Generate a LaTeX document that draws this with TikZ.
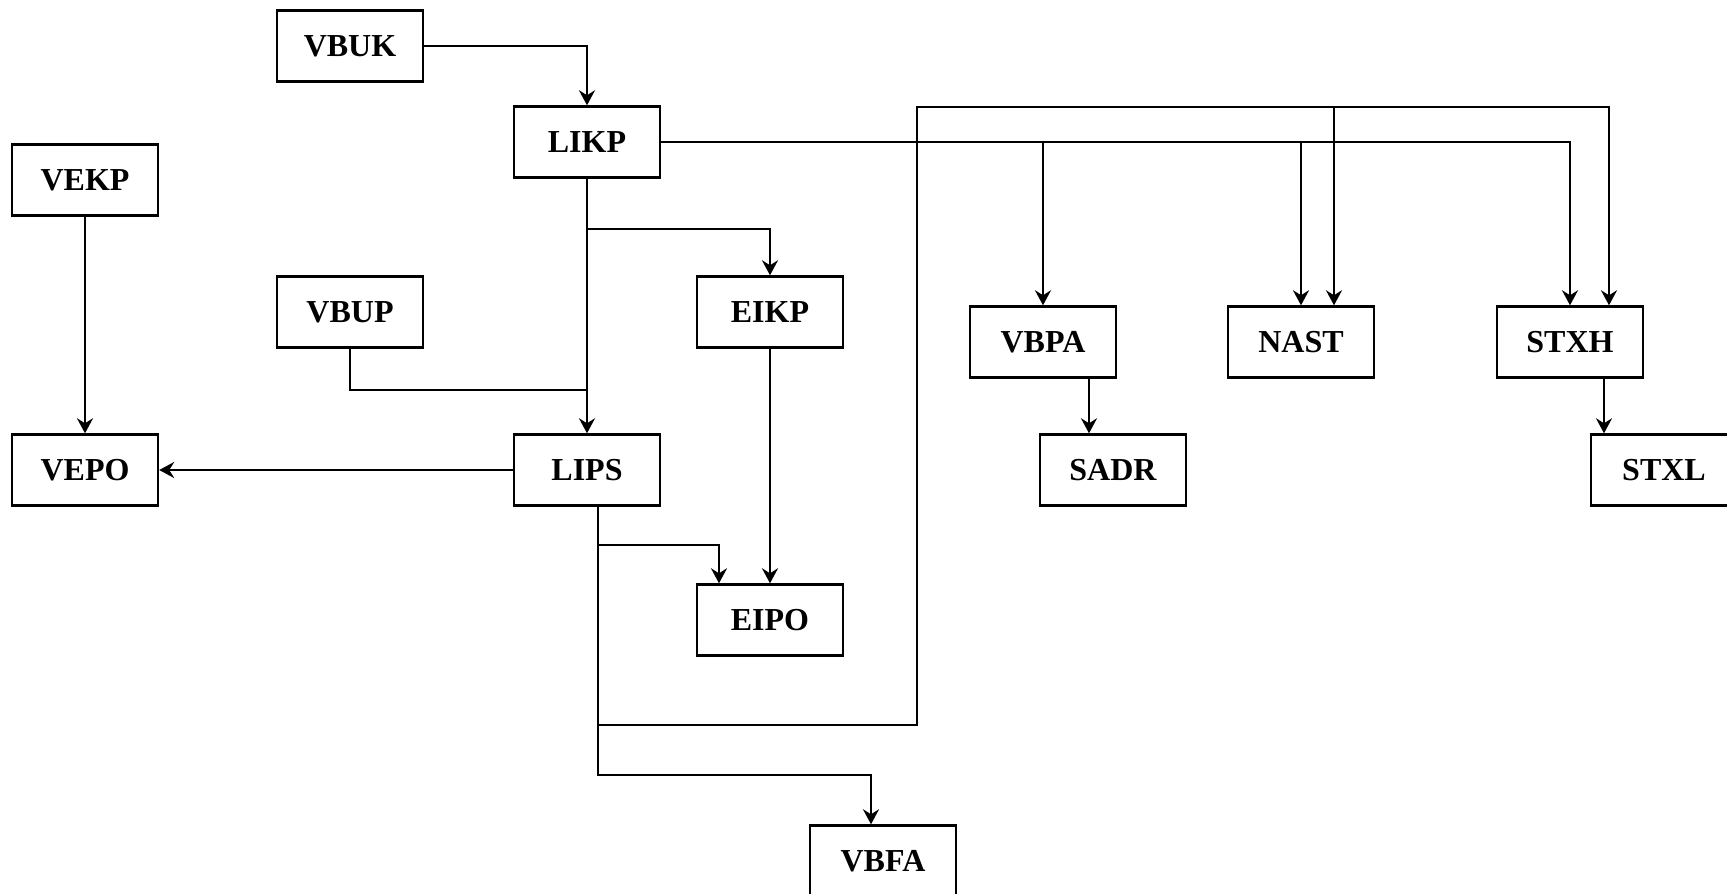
\documentclass[tikz,border=0pt]{standalone}
\usepackage{fontspec}
\setmainfont{Liberation Serif}
\usetikzlibrary{arrows.meta}
\begin{document}
\begin{tikzpicture}[x=1pt, y=-1pt, line width=2.4pt,
    tbl/.style={draw, minimum width=146pt, minimum height=71pt, inner sep=0pt,
      font=\bfseries\fontsize{32}{38}\selectfont},
    arr/.style={-{Stealth[length=15pt, width=16pt, inset=5pt]}}]
  \useasboundingbox (0,0) rectangle (1727,894);
  \node[tbl] (vbuk) at (350,46) {VBUK};
  \node[tbl] (likp) at (587,142) {LIKP};
  \node[tbl] (vekp) at (85,180) {VEKP};
  \node[tbl] (vbup) at (350,312) {VBUP};
  \node[tbl] (eikp) at (770,312) {EIKP};
  \node[tbl] (vepo) at (85,470) {VEPO};
  \node[tbl] (lips) at (587,470) {LIPS};
  \node[tbl] (eipo) at (770,620) {EIPO};
  \node[tbl] (vbfa) at (883,861) {VBFA};
  \node[tbl] (vbpa) at (1043,342) {VBPA};
  \node[tbl] (nast) at (1301,342) {NAST};
  \node[tbl] (stxh) at (1570,342) {STXH};
  \node[tbl] (sadr) at (1113,470) {SADR};
  \node[tbl] (stxl) at (1664,470) {STXL};
  \coordinate (j1) at (587,390);
  \coordinate (c1) at (917,725);
  \coordinate (c2) at (917,107);
  \coordinate (c3) at (1334,107);
  \coordinate (c4) at (1043,142);
  \coordinate (c5) at (1301,142);
  \draw[arr] (vbuk.east) -| (likp.north);
  \draw[arr] (likp.south) -- ++(0,50) -| (eikp.north);
  \draw[arr] (likp.south) -- (lips.north);
  \draw (vbup.south) |- (j1);
  \draw[arr] (vekp.south) -- (vepo.north);
  \draw[arr] (lips.west) -- (vepo.east);
  \draw[arr] (eikp.south) -- (eipo.north);
  \draw[arr] ([xshift=11pt]lips.south) -- ++(0,38) -| ([xshift=-51pt]eipo.north);
  \draw[arr] ([xshift=11pt]lips.south) |- (c1) -- (c2) -| ([xshift=39pt]stxh.north);
  \draw[arr] (c3) -- ([xshift=33pt]nast.north);
  \draw[arr] ([xshift=11pt]lips.south) -- ++(0,268) -| ([xshift=-12pt]vbfa.north);
  \draw[arr] (likp.east) -| (stxh.north);
  \draw[arr] (c4) -- (vbpa.north);
  \draw[arr] (c5) -- (nast.north);
  \draw[arr] ([xshift=46pt]vbpa.south) -- ([xshift=46pt]vbpa.south |- sadr.north);
  \draw[arr] ([xshift=34pt]stxh.south) -- ([xshift=34pt]stxh.south |- stxl.north);
\end{tikzpicture}
\end{document}
